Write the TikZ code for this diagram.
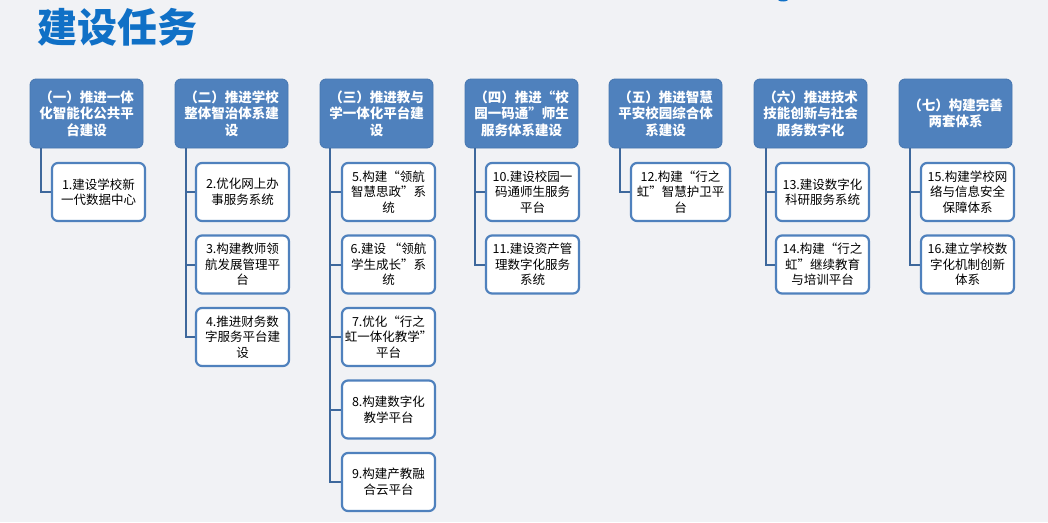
\documentclass[tikz,border=0pt]{standalone}
\usepackage{fontspec}
\newfontfamily\cjk{Noto Sans CJK SC}
\definecolor{bgc}{RGB}{241,242,245}
\definecolor{hdr}{RGB}{79,129,189}
\definecolor{hdrb}{RGB}{70,118,176}
\definecolor{lnk}{RGB}{62,104,156}
\definecolor{ttl}{RGB}{16,112,198}
\tikzset{
  hdrbox/.style={draw=hdrb, line width=0.8pt, fill=hdr, rounded corners=6pt,
    minimum width=113pt, minimum height=69pt, inner sep=0pt, align=center,
    text=white, font=\cjk\bfseries\fontsize{13.5pt}{16.5pt}\selectfont},
  kid/.style={draw=hdr, line width=2.2pt, fill=white, rounded corners=6pt,
    minimum width=93pt, minimum height=58pt, inner sep=0pt, align=center,
    text=black, font=\cjk\fontsize{12.5pt}{15.5pt}\selectfont},
  link/.style={draw=lnk, line width=2pt},
}
\begin{document}
\begin{tikzpicture}[x=1pt,y=-1pt]
\useasboundingbox (0,0) rectangle (1048,522);
\fill[bgc] (0,0) rectangle (1048,522);
\fill[ttl] (783,-1.5) ellipse (6 and 3);
\node[text=ttl, font=\cjk\bfseries\fontsize{40pt}{42pt}\selectfont, inner sep=0pt] (title) at (117,27) {建设任务};
% headers
\node[hdrbox] (h1) at (86.5,113.5) {（一）推进一体\\化智能化公共平\\台建设};
\node[hdrbox] (h2) at (231.5,113.5) {（二）推进学校\\整体智治体系建\\设};
\node[hdrbox] (h3) at (376.5,113.5) {（三）推进教与\\学一体化平台建\\设};
\node[hdrbox] (h4) at (521.5,113.5) {（四）推进“校\\园一码通”师生\\服务体系建设};
\node[hdrbox] (h5) at (665.5,113.5) {（五）推进智慧\\平安校园综合体\\系建设};
\node[hdrbox] (h6) at (810.5,113.5) {（六）推进技术\\技能创新与社会\\服务数字化};
\node[hdrbox] (h7) at (955.5,113.5) {（七）构建完善\\两套体系};
% children
\node[kid] (c1) at (98.5,192) {1.建设学校新\\一代数据中心};
\node[kid] (c2) at (242.5,192) {2.优化网上办\\事服务系统};
\node[kid] (c3) at (242.5,264.5) {3.构建教师领\\航发展管理平\\台};
\node[kid] (c4) at (242.5,337) {4.推进财务数\\字服务平台建\\设};
\node[kid] (c5) at (388.5,192) {5.构建“领航\\智慧思政”系\\统};
\node[kid] (c6) at (388.5,264.5) {6.建设 “领航\\学生成长”系\\统};
\node[kid] (c7) at (388.5,337) {7.优化“行之\\虹一体化教学”\\平台};
\node[kid] (c8) at (388.5,409.5) {8.构建数字化\\教学平台};
\node[kid] (c9) at (388.5,482) {9.构建产教融\\合云平台};
\node[kid] (c10) at (532.5,192) {10.建设校园一\\码通师生服务\\平台};
\node[kid] (c11) at (532.5,264.5) {11.建设资产管\\理数字化服务\\系统};
\node[kid, minimum width=99pt] (c12) at (680.5,192) {12.构建“行之\\虹”智慧护卫平\\台};
\node[kid] (c13) at (822.5,192) {13.建设数字化\\科研服务系统};
\node[kid] (c14) at (822.5,264.5) {14.构建“行之\\虹”继续教育\\与培训平台};
\node[kid] (c15) at (967.5,192) {15.构建学校网\\络与信息安全\\保障体系};
\node[kid] (c16) at (967.5,264.5) {16.建立学校数\\字化机制创新\\体系};
% connectors
\draw[link] ([xshift=11pt]h1.south west) |- (c1.west);
\foreach \c in {c2,c3,c4} \draw[link] ([xshift=11pt]h2.south west) |- (\c.west);
\foreach \c in {c5,c6,c7,c8,c9} \draw[link] ([xshift=10pt]h3.south west) |- (\c.west);
\foreach \c in {c10,c11} \draw[link] ([xshift=10pt]h4.south west) |- (\c.west);
\draw[link] ([xshift=11pt]h5.south west) |- (c12.west);
\foreach \c in {c13,c14} \draw[link] ([xshift=12pt]h6.south west) |- (\c.west);
\foreach \c in {c15,c16} \draw[link] ([xshift=11pt]h7.south west) |- (\c.west);
\end{tikzpicture}
\end{document}
